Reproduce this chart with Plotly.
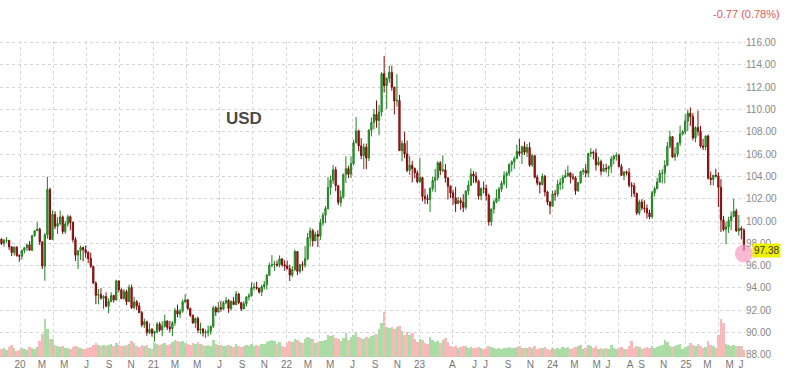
import pandas as pd
import plotly.graph_objects as go

# ---------------- weekly data (Monday week start) ----------------
week_start = "2019-11-11"

opens = [
    # 2019
    98.37, 97.99, 98.27, 98.27, 97.68, 97.18, 97.66, 96.92,
    # 2020
    96.84, 97.36, 97.61, 97.87, 97.39, 98.69, 99.13, 99.27, 98.13, 95.97, 98.75, 102.82, 98.35, 100.59, 99.52, 99.78,
    100.37, 99.06, 99.73, 100.38, 99.87, 98.34, 96.94, 97.33, 97.62, 97.43, 97.18, 96.65, 95.94, 94.44, 93.35, 93.41,
    93.09, 93.24, 92.37, 92.80, 93.33, 92.93, 94.64, 93.84, 93.06, 93.68, 92.77, 94.04, 92.23, 92.76, 92.39, 91.79,
    90.70, 90.98, 90.02, 90.29,
    # 2021
    89.94, 90.10, 90.77, 90.24, 90.58, 91.04, 90.48, 90.36, 90.88, 91.98, 91.67, 91.92, 92.77, 92.93, 92.16, 91.56,
    90.88, 91.28, 90.23, 90.32, 89.99, 90.03, 90.13, 90.57, 92.22, 91.85, 92.23, 92.12, 92.68, 92.89, 92.17, 92.80,
    92.52, 93.46, 92.69, 92.13, 92.58, 93.20, 93.32, 94.04, 94.08, 93.97, 93.64, 94.12, 94.32, 95.13, 96.03, 96.08,
    96.14, 96.08, 96.61, 96.07,
    # 2022
    95.97, 95.73, 95.16, 95.64, 97.27, 95.49, 96.08, 96.04, 96.62, 98.52, 99.13, 98.22, 98.80, 98.63, 99.84, 100.51,
    101.12, 103.00, 103.66, 104.59, 103.16, 101.67, 102.14, 104.15, 104.69, 104.20, 105.14, 107.01, 108.07, 106.73,
    105.85, 106.61, 105.64, 108.15, 108.81, 109.55, 109.00, 109.76, 113.19, 112.12, 112.75, 113.31, 111.99, 110.75,
    110.80, 106.30, 106.95, 106.01, 104.54, 104.99, 104.70, 104.31,
    # 2023
    103.52, 103.88, 102.20, 101.99, 101.93, 102.92, 103.63, 103.87, 105.21, 104.52, 104.58, 103.86, 103.12, 102.51,
    102.08, 101.55, 101.82, 101.66, 101.22, 102.68, 103.20, 104.21, 104.02, 103.56, 102.25, 102.92, 102.91, 102.28,
    99.93, 101.07, 101.70, 102.03, 102.85, 103.37, 104.08, 104.28, 105.07, 105.31, 105.58, 106.22, 106.04, 106.66,
    106.16, 106.58, 105.02, 105.85, 103.92, 103.40, 103.27, 104.00, 102.60, 101.70,
    # 2024
    101.33, 102.41, 102.40, 103.27, 103.43, 103.92, 104.06, 104.29, 103.94, 103.86, 102.71, 103.43, 104.43, 104.53,
    104.29, 106.04, 106.15, 106.08, 105.03, 105.30, 104.45, 104.72, 104.67, 104.89, 105.55, 105.80, 105.87, 104.88,
    104.09, 104.40, 104.32, 103.21, 103.14, 102.46, 100.72, 101.70, 101.18, 101.11, 100.72, 100.38, 102.52, 102.90,
    103.49, 104.26, 104.28, 104.96, 106.69, 107.55, 105.74, 105.99, 106.99, 107.80, 108.00,
    # 2025
    108.95, 109.65, 109.35, 107.44, 108.37, 108.04, 106.71, 106.62, 107.61, 103.84, 103.72, 104.09, 104.04, 103.02,
    100.10, 99.23, 99.47, 100.03, 100.42, 100.88, 99.11, 99.33, 99.19,
]

highs = [
    # 2019
    98.45, 98.40, 98.55, 98.30, 97.75, 97.70, 97.73, 97.00,
    # 2020
    97.45, 97.65, 97.95, 98.20, 98.75, 99.15, 99.90, 99.40, 98.15, 98.95, 103.96, 102.99, 100.93, 100.87, 100.34,
    100.94, 100.50, 100.00, 100.56, 100.50, 99.95, 98.56, 97.35, 97.80, 97.70, 97.79, 97.29, 97.17, 95.99, 94.59,
    93.91, 93.99, 93.36, 93.61, 93.08, 93.63, 93.39, 94.74, 94.66, 93.97, 93.91, 93.84, 94.30, 94.30, 93.21, 92.92,
    92.70, 91.94, 91.26, 91.07, 90.84, 90.42,
    # 2021
    90.17, 90.95, 90.96, 91.01, 91.60, 91.10, 91.05, 91.03, 92.20, 92.51, 92.14, 92.97, 93.44, 93.03, 92.25, 91.62,
    91.34, 91.43, 90.90, 90.42, 90.29, 90.63, 90.62, 92.41, 92.38, 92.74, 92.84, 92.84, 93.19, 93.00, 92.88, 93.20,
    93.73, 93.58, 92.73, 92.83, 93.25, 93.53, 94.50, 94.45, 94.56, 94.02, 94.29, 94.63, 95.27, 96.27, 96.94, 96.43,
    96.47, 96.92, 96.63, 96.48,
    # 2022
    96.46, 96.08, 95.96, 97.44, 97.29, 96.15, 96.39, 97.74, 98.93, 99.42, 99.29, 99.05, 99.17, 100.19, 100.76, 101.34,
    103.93, 104.07, 105.01, 104.85, 103.19, 102.74, 104.25, 105.79, 104.95, 105.79, 107.27, 109.29, 108.19, 107.43,
    106.93, 106.93, 108.18, 109.27, 110.02, 110.79, 110.40, 113.33, 114.78, 112.86, 113.92, 113.89, 112.01, 113.15,
    111.29, 107.21, 107.99, 107.20, 105.82, 105.39, 104.80, 104.54,
    # 2023
    105.63, 103.95, 102.90, 102.38, 103.01, 103.96, 104.67, 105.36, 105.36, 105.88, 105.10, 103.91, 103.19, 102.82,
    103.06, 102.17, 102.12, 102.40, 102.75, 103.63, 104.70, 104.46, 104.40, 103.69, 103.02, 103.54, 103.26, 102.46,
    101.12, 101.92, 102.84, 103.05, 103.60, 104.44, 104.44, 105.16, 105.43, 105.78, 106.84, 107.35, 106.73, 107.11,
    106.89, 107.05, 106.04, 105.86, 104.13, 103.56, 104.26, 104.13, 102.72, 101.75,
    # 2024
    102.73, 102.77, 103.69, 103.82, 104.12, 104.60, 104.97, 104.37, 104.25, 104.02, 103.50, 104.49, 104.73, 105.09,
    106.11, 106.52, 106.31, 106.49, 105.74, 105.50, 105.12, 105.13, 104.96, 105.80, 105.91, 106.13, 106.04, 105.11,
    104.44, 104.51, 104.73, 103.48, 103.42, 102.54, 101.92, 101.96, 101.85, 101.47, 101.00, 102.69, 103.07, 103.87,
    104.57, 104.63, 105.44, 107.07, 108.07, 107.58, 106.62, 107.06, 108.54, 108.16, 109.54,
    # 2025
    109.97, 110.17, 109.65, 108.48, 109.88, 108.52, 107.36, 107.67, 107.74, 104.42, 104.15, 104.68, 104.36, 103.75,
    100.45, 99.92, 100.38, 100.86, 101.98, 101.10, 100.54, 99.53, 99.35,
]

lows = [
    # 2019
    97.85, 97.70, 98.05, 97.40, 96.85, 96.90, 96.80, 96.35,
    # 2020
    96.55, 97.10, 97.30, 97.35, 97.30, 98.60, 99.10, 97.85, 95.70, 94.65, 98.40, 98.30, 98.30, 99.28, 98.84, 99.62,
    98.81, 98.85, 99.50, 99.18, 98.09, 96.42, 95.71, 96.50, 96.38, 96.72, 96.23, 95.80, 94.38, 92.55, 92.54, 92.95,
    92.13, 92.27, 91.75, 92.71, 92.70, 92.90, 93.60, 92.99, 92.96, 92.47, 92.75, 92.13, 92.13, 92.01, 91.75, 90.50,
    90.42, 89.72, 89.88, 89.64,
    # 2021
    89.21, 89.93, 90.06, 89.69, 90.45, 90.23, 90.03, 89.68, 90.62, 91.38, 91.30, 91.78, 92.65, 92.04, 91.41, 90.79,
    90.42, 89.98, 89.87, 89.65, 89.53, 89.66, 89.81, 90.40, 91.51, 91.81, 91.87, 92.05, 92.54, 91.78, 91.96, 92.50,
    92.45, 92.55, 91.94, 92.08, 92.34, 92.87, 93.21, 93.78, 93.85, 93.50, 93.28, 93.87, 93.87, 95.10, 95.85, 95.52,
    95.88, 95.85, 95.90, 95.54,
    # 2022
    95.67, 94.63, 94.97, 95.54, 95.14, 95.29, 95.53, 95.82, 96.48, 97.71, 97.71, 98.19, 97.68, 98.31, 99.57, 99.82,
    101.02, 102.35, 103.33, 102.67, 101.43, 101.30, 102.01, 103.41, 103.86, 103.85, 104.96, 106.96, 106.25, 105.54,
    104.64, 104.64, 105.37, 107.58, 108.21, 108.35, 107.68, 109.38, 111.50, 110.05, 112.38, 111.67, 109.54, 110.24,
    106.28, 105.34, 105.63, 104.37, 104.12, 103.45, 103.83, 103.37,
    # 2023
    103.39, 101.77, 101.53, 101.50, 100.82, 102.64, 102.58, 103.63, 104.10, 104.36, 103.43, 101.92, 102.06, 101.45,
    100.79, 101.55, 101.00, 100.79, 101.01, 102.32, 103.16, 103.39, 103.37, 101.92, 101.86, 102.47, 101.83, 99.58,
    99.57, 100.66, 101.59, 101.74, 102.62, 103.18, 102.94, 104.03, 104.43, 104.67, 105.56, 105.82, 105.10, 105.91,
    105.74, 104.84, 104.85, 103.82, 103.18, 102.46, 103.19, 102.21, 101.42, 100.61,
    # 2024
    101.32, 101.82, 102.18, 102.77, 102.85, 103.84, 103.93, 103.36, 103.65, 102.35, 102.60, 103.33, 104.12, 103.88,
    103.93, 105.74, 105.51, 104.52, 104.94, 104.08, 104.39, 104.34, 103.99, 104.30, 105.07, 105.41, 104.80, 104.03,
    103.65, 104.08, 103.00, 102.16, 102.16, 100.53, 100.51, 100.95, 100.76, 100.22, 100.16, 100.21, 102.20, 102.82,
    103.43, 103.38, 103.37, 104.95, 106.50, 105.65, 105.40, 105.75, 106.71, 107.66, 107.74,
    # 2025
    108.05, 108.51, 107.22, 107.04, 107.65, 106.56, 106.35, 106.34, 103.70, 103.21, 103.19, 103.90, 101.26, 99.01,
    99.08, 97.92, 98.93, 99.17, 100.33, 99.03, 98.69, 98.35, 97.35,
]

closes = [
    # 2019
    97.99, 98.27, 98.27, 97.68, 97.18, 97.66, 96.92, 96.84,
    # 2020
    97.36, 97.61, 97.87, 97.39, 98.69, 99.13, 99.27, 98.13, 95.97, 98.75, 102.82, 98.35, 100.59, 99.52, 99.78, 100.37,
    99.06, 99.73, 100.38, 99.87, 98.34, 96.94, 97.33, 97.62, 97.43, 97.18, 96.65, 95.94, 94.44, 93.35, 93.41, 93.09,
    93.24, 92.37, 92.80, 93.33, 92.93, 94.64, 93.84, 93.06, 93.68, 92.77, 94.04, 92.23, 92.76, 92.39, 91.79, 90.70,
    90.98, 90.02, 90.29, 89.94,
    # 2021
    90.10, 90.77, 90.24, 90.58, 91.04, 90.48, 90.36, 90.88, 91.98, 91.67, 91.92, 92.77, 92.93, 92.16, 91.56, 90.88,
    91.28, 90.23, 90.32, 89.99, 90.03, 90.13, 90.57, 92.22, 91.85, 92.23, 92.12, 92.68, 92.89, 92.17, 92.80, 92.52,
    93.46, 92.69, 92.13, 92.58, 93.20, 93.32, 94.04, 94.08, 93.97, 93.64, 94.12, 94.32, 95.13, 96.03, 96.08, 96.14,
    96.08, 96.61, 96.07, 95.97,
    # 2022
    95.73, 95.16, 95.64, 97.27, 95.49, 96.08, 96.04, 96.62, 98.52, 99.13, 98.22, 98.80, 98.63, 99.84, 100.51, 101.12,
    103.00, 103.66, 104.59, 103.16, 101.67, 102.14, 104.15, 104.69, 104.20, 105.14, 107.01, 108.07, 106.73, 105.85,
    106.61, 105.64, 108.15, 108.81, 109.55, 109.00, 109.76, 113.19, 112.12, 112.75, 113.31, 111.99, 110.75, 110.80,
    106.30, 106.95, 106.01, 104.54, 104.99, 104.70, 104.31, 103.52,
    # 2023
    103.88, 102.20, 101.99, 101.93, 102.92, 103.63, 103.87, 105.21, 104.52, 104.58, 103.86, 103.12, 102.51, 102.08,
    101.55, 101.82, 101.66, 101.22, 102.68, 103.20, 104.21, 104.02, 103.56, 102.25, 102.92, 102.91, 102.28, 99.93,
    101.07, 101.70, 102.03, 102.85, 103.37, 104.08, 104.28, 105.07, 105.31, 105.58, 106.22, 106.04, 106.66, 106.16,
    106.58, 105.02, 105.85, 103.92, 103.40, 103.27, 104.00, 102.60, 101.70, 101.33,
    # 2024
    102.41, 102.40, 103.27, 103.43, 103.92, 104.06, 104.29, 103.94, 103.86, 102.71, 103.43, 104.43, 104.53, 104.29,
    106.04, 106.15, 106.08, 105.03, 105.30, 104.45, 104.72, 104.67, 104.89, 105.55, 105.80, 105.87, 104.88, 104.09,
    104.40, 104.32, 103.21, 103.14, 102.46, 100.72, 101.70, 101.18, 101.11, 100.72, 100.38, 102.52, 102.90, 103.49,
    104.26, 104.28, 104.96, 106.69, 107.55, 105.74, 105.99, 106.99, 107.80, 108.00, 108.95,
    # 2025
    109.65, 109.35, 107.44, 108.37, 108.04, 106.71, 106.62, 107.61, 103.84, 103.72, 104.09, 104.04, 103.02, 100.10,
    99.23, 99.47, 100.03, 100.42, 100.88, 99.11, 99.33, 99.19, 97.38,
]

volumes = [
    # 2019
    40, 45, 35, 50, 60, 45, 30, 35,
    # 2020
    45, 40, 35, 50, 45, 40, 50, 80, 115, 190, 140, 90, 90, 60, 55, 50, 55, 45, 45, 40, 50, 55, 50, 45, 40, 40,
    45, 50, 60, 70, 60, 55, 60, 55, 60, 65, 55, 70, 60, 55, 55, 60, 65, 80, 70, 55, 50, 60, 55, 60, 45, 40,
    # 2021
    70, 65, 60, 65, 70, 60, 65, 75, 85, 80, 75, 80, 70, 65, 60, 70, 65, 75, 65, 60, 55, 60, 55, 85, 65, 60,
    60, 55, 55, 60, 55, 50, 65, 55, 50, 55, 60, 55, 65, 55, 60, 55, 65, 65, 75, 80, 85, 80, 65, 75, 55, 50,
    # 2022
    70, 80, 75, 90, 85, 75, 70, 90, 100, 95, 90, 70, 75, 80, 80, 85, 110, 105, 110, 95, 90, 80, 95, 120, 85, 100,
    110, 125, 100, 95, 90, 100, 95, 105, 110, 115, 140, 170, 225, 150, 145, 150, 140, 150, 155, 130, 110, 125, 110, 120, 90, 75,
    # 2023
    90, 85, 70, 65, 100, 85, 75, 80, 70, 85, 95, 75, 55, 50, 55, 45, 50, 55, 55, 45, 50, 45, 45, 50, 45, 40,
    45, 55, 50, 45, 40, 45, 40, 45, 45, 50, 45, 45, 50, 55, 45, 45, 45, 50, 45, 55, 40, 45, 45, 50, 40, 35,
    # 2024
    45, 40, 45, 40, 50, 45, 50, 40, 45, 50, 55, 60, 40, 45, 60, 55, 45, 55, 40, 45, 40, 45, 40, 60, 45, 40, 45,
    50, 40, 40, 55, 80, 45, 55, 50, 40, 45, 50, 45, 55, 45, 50, 55, 60, 85, 75, 55, 50, 55, 60, 65, 40, 50,
    # 2025
    55, 70, 60, 55, 65, 55, 45, 50, 80, 60, 55, 45, 110, 190, 170, 65, 60, 55, 60, 55, 55, 55, 35,
]

n = len(closes)
assert len(opens) == len(highs) == len(lows) == len(volumes) == n, (
    len(opens), len(highs), len(lows), len(closes), len(volumes))
dates = pd.date_range(week_start, periods=n, freq="7D")

tick_dates = ["2020-01-01", "2020-03-01", "2020-05-01", "2020-07-01", "2020-09-01", "2020-11-01",
              "2021-01-01", "2021-03-01", "2021-05-01", "2021-07-01", "2021-09-01", "2021-11-01",
              "2022-01-01", "2022-03-01", "2022-05-01", "2022-07-01", "2022-09-01", "2022-11-01",
              "2023-01-01", "2023-04-01", "2023-06-01", "2023-07-01", "2023-09-01", "2023-11-01",
              "2024-01-01", "2024-03-01", "2024-05-01", "2024-06-01", "2024-08-01", "2024-09-01", "2024-11-01",
              "2025-01-01", "2025-03-01", "2025-05-01", "2025-06-01"]
tick_labels = ["20", "M", "M", "J", "S", "N",
               "21", "M", "M", "J", "S", "N",
               "22", "M", "M", "J", "S", "N",
               "23", "A", "J", "J", "S", "N",
               "24", "M", "M", "J", "A", "S", "N",
               "25", "M", "M", "J"]
grid_dates = [d.strftime("%Y-%m-%d") for d in pd.date_range("2020-01-01", "2025-04-01", freq="QS")]
price_ticks = list(range(88, 117, 2))
change_text = "-0.77 (0.78%)"

UP_FILL, UP_LINE = "#3dbb3d", "#1e7e1e"
DN_FILL, DN_LINE = "#c21f24", "#7d0a0a"
VOL_UP, VOL_DN = "#abdca5", "#f7b9b9"
GRID = "#d4d4d4"
DASH = "3px,3px"
FONT = "Liberation Sans, Arial, sans-serif"

vol_colors = [VOL_UP if c >= o else VOL_DN for o, c in zip(opens, closes)]

fig = go.Figure()
fig.add_trace(go.Bar(x=dates, y=volumes, marker=dict(color=vol_colors, line=dict(width=0)),
                     width=7 * 86400000, yaxis="y", hoverinfo="skip"))
fig.add_trace(go.Candlestick(
    x=dates, open=opens, high=highs, low=lows, close=closes, yaxis="y2",
    increasing=dict(line=dict(color=UP_LINE, width=1), fillcolor=UP_FILL),
    decreasing=dict(line=dict(color=DN_LINE, width=1), fillcolor=DN_FILL),
    whiskerwidth=0, hoverinfo="skip"))
fig.add_trace(go.Scatter(x=[dates[-1]], y=[closes[-1] - 0.3], mode="markers", yaxis="y2",
                         marker=dict(size=18, color="rgba(246,158,192,0.72)", line=dict(width=0)),
                         cliponaxis=False, hoverinfo="skip"))

fig.update_layout(
    width=800, height=376,
    margin=dict(l=0, r=55, t=41, b=19),
    paper_bgcolor="white", plot_bgcolor="white",
    showlegend=False, hovermode=False, bargap=0,
    font=dict(family=FONT),
    xaxis=dict(
        type="date", range=["2019-11-07", "2025-06-12"],
        tickmode="array", tickvals=tick_dates, ticktext=tick_labels,
        showgrid=False, zeroline=False, showline=False, ticks="",
        tickfont=dict(size=10, color="#777777", family=FONT),
        rangeslider=dict(visible=False),
        minor=dict(tickmode="array", tickvals=grid_dates, showgrid=True,
                   gridcolor=GRID, griddash=DASH, gridwidth=1, ticks=""),
    ),
    yaxis=dict(range=[0, 1580], visible=False, showgrid=False, zeroline=False),
    yaxis2=dict(
        overlaying="y", side="right", range=[87.82, 116.12],
        tickmode="array", tickvals=price_ticks, tickformat=".2f",
        showgrid=True, gridcolor=GRID, griddash=DASH, gridwidth=1,
        zeroline=False, showline=False, ticks="",
        tickfont=dict(size=10, color="#888888", family=FONT),
    ),
    annotations=[
        dict(text="<b>USD</b>", xref="paper", yref="paper", x=0.3275, y=0.756,
             xanchor="center", yanchor="middle", showarrow=False,
             font=dict(size=17, color="#4a4a4a", family=FONT)),
        dict(text=change_text, xref="paper", yref="paper", x=1.0497, y=1.085,
             xanchor="right", yanchor="middle", showarrow=False,
             font=dict(size=11, color="#e2585d", family=FONT)),
        dict(text=f"{closes[-1]:.2f}", xref="paper", yref="y2", x=1.0094, y=closes[-1],
             xanchor="left", yanchor="middle", showarrow=False, bgcolor="#eef000",
             borderpad=1, font=dict(size=10, color="#333333", family=FONT)),
    ],
)

fig.write_html("out.html", config={"displayModeBar": False, "staticPlot": True},
               post_script="document.body.style.margin='0px';")
